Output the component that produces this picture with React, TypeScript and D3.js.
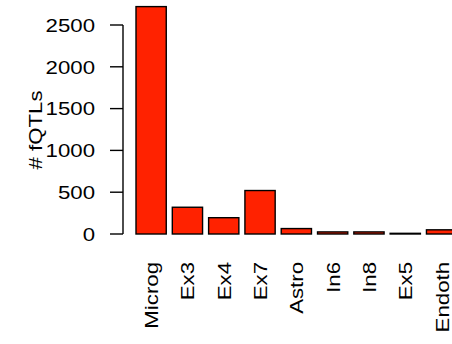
import React from "react";
import * as d3 from "d3";

// Number of fQTLs per cell type
const cellTypes = ["Microg", "Ex3", "Ex4", "Ex7", "Astro", "In6", "In8", "Ex5", "Endoth"];
const fqtlCounts = [2720, 320, 195, 520, 65, 25, 25, 8, 50];
const yTicks = [0, 500, 1000, 1500, 2000, 2500];

const W = 452;
const H = 344;
const FONT = "'Liberation Sans', Arial, Helvetica, sans-serif";
const FS = 19;
const STRETCH = 1.17;
const BAR_FILL = "#ff2200";

export default function App() {
  const x = d3
    .scaleBand<string>()
    .domain(cellTypes)
    .range([136, 456.7])
    .paddingInner(0.1667)
    .paddingOuter(0);
  const y = d3.scaleLinear().domain([0, 2500]).range([234, 25]);

  const axisX = 123;
  const tickLen = 13;

  return (
    <svg
      width={W}
      height={H}
      style={{ position: "absolute", left: 0, top: 0, background: "#fff" }}
      fontFamily={FONT}
      fontSize={FS}
    >
      <rect width={W} height={H} fill="#fff" />
      {/* bars */}
      {cellTypes.map((c, i) => (
        <rect
          key={c}
          x={x(c)}
          y={y(fqtlCounts[i])}
          width={x.bandwidth()}
          height={y(0) - y(fqtlCounts[i])}
          fill={BAR_FILL}
          stroke="#000"
          strokeWidth={1.4}
        />
      ))}
      {/* y axis */}
      <line x1={axisX} x2={axisX} y1={y(2500)} y2={y(0)} stroke="#000" strokeWidth={1.4} />
      {yTicks.map((t) => (
        <g key={t}>
          <line x1={axisX - tickLen} x2={axisX} y1={y(t)} y2={y(t)} stroke="#000" strokeWidth={1.4} />
          <text
            transform={`translate(95,${y(t) + 6.8}) scale(${STRETCH},1)`}
            textAnchor="end"
            fill="#000"
          >
            {t}
          </text>
        </g>
      ))}
      {/* y axis title */}
      <text
        transform={`translate(42,130) rotate(-90) scale(${STRETCH},1)`}
        textAnchor="middle"
        fill="#000"
      >
        # fQTLs
      </text>
      {/* category labels */}
      {cellTypes.map((c) => (
        <text
          key={c}
          transform={`translate(${(x(c) ?? 0) + x.bandwidth() / 2 + 7},262) rotate(-90) scale(${STRETCH},1)`}
          textAnchor="end"
          fill="#000"
        >
          {c}
        </text>
      ))}
    </svg>
  );
}
